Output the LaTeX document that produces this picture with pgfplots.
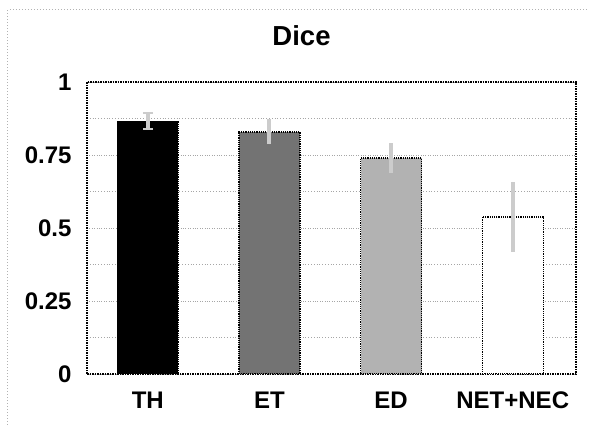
\documentclass[border=0pt]{standalone}
\usepackage{pgfplots}
\pgfplotsset{compat=1.18}
\usepackage{fontspec}
\setmainfont{Liberation Sans}
\begin{document}
\begin{tikzpicture}[x=1pt,y=1pt]
\useasboundingbox (-87,-51) rectangle (502,374);
\draw[gray!60, dotted, line width=1pt] (-79,-51) -- (-79,364) -- (502,364);
\begin{axis}[
  at={(0,0)}, anchor=south west,
  scale only axis, width=489pt, height=292pt,
  xmin=-0.5, xmax=3.52, ymin=0, ymax=1,
  ytick={0,0.25,0.5,0.75,1}, yticklabels={0,0.25,0.5,0.75,1},
  minor ytick={0.125,0.375,0.625,0.875},
  ymajorgrids, yminorgrids,
  grid style={gray!70, dotted, line width=0.8pt},
  minor grid style={gray!70, dotted, line width=0.8pt},
  xtick={0,1,2,3}, xticklabels={TH,ET,ED,NET+NEC},
  major tick length=0pt, minor tick length=0pt,
  tick label style={font=\fontsize{24}{28}\selectfont\bfseries},
  yticklabel style={anchor=east, xshift=-12pt},
  xticklabel style={anchor=north, yshift=-14pt},
  axis line style={black, densely dotted, line width=1.5pt},
  title={Dice},
  title style={font=\fontsize{27.5}{32}\selectfont\bfseries, at={(rel axis cs:0.4387,1)}, anchor=center, yshift=40pt},
  ybar, bar width=61pt,
  error bars/error bar style={gray!40, solid, line width=4pt},
  error bars/error mark options={gray!40, solid, line width=2pt, rotate=90, mark size=5pt},
]
\addplot[bar shift=0pt, fill=black, draw=black, densely dotted, line width=1.2pt,
  error bars/.cd, y dir=both, y explicit] coordinates {(0,0.866) +- (0,0.028)};
\addplot[bar shift=0pt, fill=black!55, draw=black, densely dotted, line width=1.2pt,
  error bars/.cd, y dir=both, y explicit, error mark=none] coordinates {(1,0.829) +- (0,0.043)};
\addplot[bar shift=0pt, fill=black!30, draw=black, densely dotted, line width=1.2pt,
  error bars/.cd, y dir=both, y explicit, error mark=none] coordinates {(2,0.740) +- (0,0.050)};
\addplot[bar shift=0pt, fill=white, draw=black, densely dotted, line width=1.2pt,
  error bars/.cd, y dir=both, y explicit, error mark=none] coordinates {(3,0.538) +- (0,0.120)};
\end{axis}
\end{tikzpicture}
\end{document}
